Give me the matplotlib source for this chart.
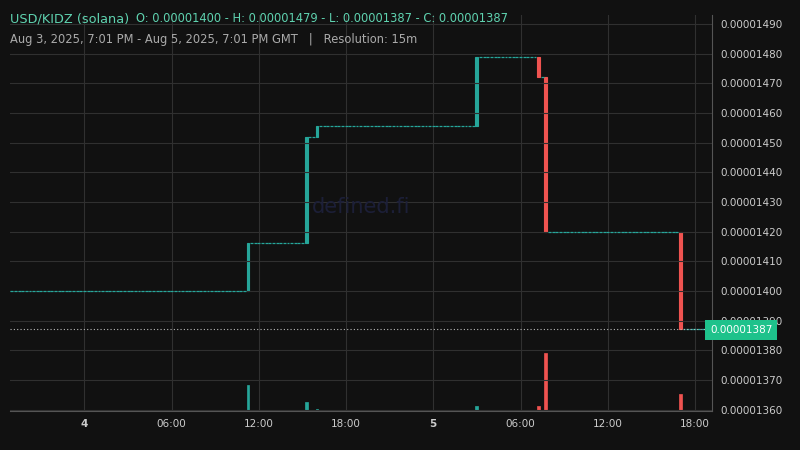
import matplotlib
matplotlib.use("Agg")
import matplotlib.pyplot as plt
import numpy as np

# candle index: 15-min candles from Aug 3, 2025 19:00 GMT (193 candles)
n_candles = 193
event_idx = [65, 81, 84, 128, 145, 147, 184]
event_open = [1400, 1416, 1452, 1455.5, 1479, 1472, 1420]
event_close = [1416, 1452, 1455.5, 1479, 1472, 1420, 1387]
event_vol = [45, 16, 4, 9, 8, 100, 30]
start_price = 1400
last_price = 1387
base_vol = 0.6
yticks = [1360, 1370, 1380, 1390, 1400, 1410, 1420, 1430, 1440, 1450, 1460, 1470, 1480, 1490]
xtick_idx = [20, 44, 68, 92, 116, 140, 164, 188]
xtick_labels = ["4", "06:00", "12:00", "18:00", "5", "06:00", "12:00", "18:00"]

GREEN = "#26a69a"; RED = "#ef5350"; BG = "#111111"; GRID = "#303030"

fig = plt.figure(figsize=(8, 4.5), dpi=100, facecolor=BG)
ax = fig.add_axes([10/800, 1-411/450, 702/800, 396/450], facecolor=BG)
axv = ax.twinx()
axv.set_zorder(0); ax.set_zorder(1); ax.patch.set_visible(False)
axv.set_facecolor(BG)

opens, closes, vols = [], [], []
p = start_price
ev = dict(zip(event_idx, zip(event_open, event_close, event_vol)))
for i in range(n_candles):
    if i in ev:
        o, c, v = ev[i]; p = c
    else:
        o, c, v = p, p, base_vol
    opens.append(o); closes.append(c); vols.append(v)

scale = 1e-8
w = 0.8
for i in range(n_candles):
    o, c = opens[i], closes[i]
    if o == c:
        ax.hlines(o*scale, i - w/2, i + w/2, color=GREEN, lw=0.9)
    else:
        col = GREEN if c > o else RED
        ax.bar(i, (c-o)*scale, bottom=o*scale, width=w, color=col, ec=col, lw=0.8)
    vcol = RED if closes[i] < opens[i] else GREEN
    axv.bar(i, vols[i], width=w, color=vcol, ec=vcol, lw=0.5)

ax.set_xlim(-0.5, n_candles - 0.3)
ax.set_ylim(1359.5*scale, 1493*scale)
axv.set_ylim(0, 100*396/58)
axv.set_yticks([])
ax.axhline(last_price*scale, color="#bbbbbb", lw=0.8, ls=(0, (1, 2)))

ax.yaxis.tick_right()
ax.set_yticks([t*scale for t in yticks])
ax.set_yticklabels([f"{t*scale:.8f}" for t in yticks], color="#cccccc", fontsize=7.5)
ax.set_xticks(xtick_idx)
ax.set_xticklabels(xtick_labels, color="#cccccc", fontsize=7.5)
for lab, t in zip(ax.get_xticklabels(), xtick_labels):
    if t in ("4", "5"):
        lab.set_fontweight("bold")
ax.tick_params(length=0, pad=6)
ax.grid(True, color=GRID, lw=0.8)
for s in ax.spines.values():
    s.set_visible(False)
for s in axv.spines.values():
    s.set_visible(False)
ax.spines["right"].set_visible(True); ax.spines["right"].set_color("#555555")
ax.spines["bottom"].set_visible(True); ax.spines["bottom"].set_color("#555555")

fig.text(710/800, 1-330/450, f"{last_price*scale:.8f}", ha="left", va="center",
         fontsize=7.5, color="white", zorder=20,
         bbox=dict(boxstyle="square,pad=0.45", fc="#1ec28b", ec="none"))

fig.text(0.5*702/800 + 10/800, 1-207/450, "defined.fi", color="#1c1f38", fontsize=15,
         ha="center", va="center")
fig.text(10/800, 1-19/450, "USD/KIDZ (solana)", color="#5fd3b0", fontsize=9.3, va="center")
fig.text(136/800, 1-19/450, "O: 0.00001400 - H: 0.00001479 - L: 0.00001387 - C: 0.00001387",
         color="#5fd3b0", fontsize=8.3, va="center")
fig.text(10/800, 1-40/450, "Aug 3, 2025, 7:01 PM - Aug 5, 2025, 7:01 PM GMT   |   Resolution: 15m",
         color="#aaaaaa", fontsize=8.3, va="center")

fig.savefig("out.png", dpi=100, facecolor=BG)
